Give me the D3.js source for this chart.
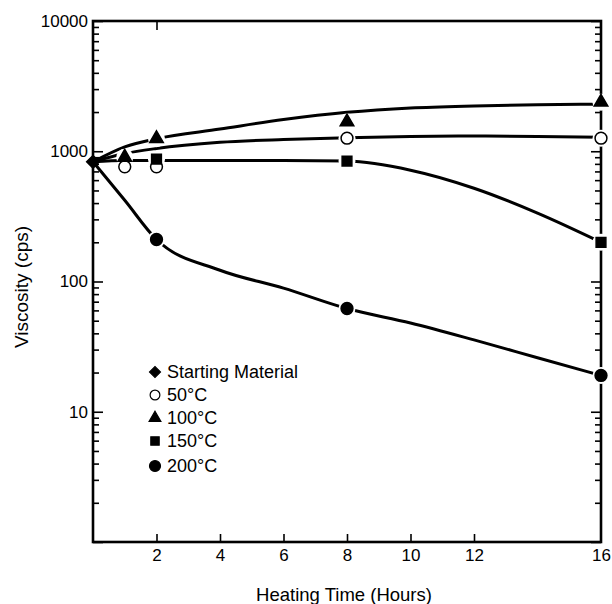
<!DOCTYPE html>
<html>
<head>
<meta charset="utf-8">
<script src="https://cdn.jsdelivr.net/npm/d3@7"></script>
<style>
  body { margin: 0; background: #fff; }
  svg { font-family: "Liberation Sans", Arial, Helvetica, sans-serif; }
</style>
</head>
<body>
<div id="chart"></div>
<script>
// tick labels
const xTicks = [2, 4, 6, 8, 10, 12, 16]
const yTicks = [10, 100, 1000, 10000]

// measured points (hours, viscosity cps)
const startHours = [0]
const startVisc = [830]
const hours50 = [1, 2, 8, 16]
const visc50 = [760, 760, 1260, 1260]
const hours100 = [1, 2, 8, 16]
const visc100 = [900, 1250, 1680, 2380]
const hours150 = [2, 8, 16]
const visc150 = [870, 840, 200]
const hours200 = [2, 8, 16]
const visc200 = [210, 62, 19]

// drawn trend curves
const fitHours = [0, 1, 2, 4, 6, 8, 10, 12, 14, 16]
const fit50 = [830, 960, 1050, 1170, 1230, 1270, 1300, 1310, 1300, 1280]
const fit100 = [830, 1080, 1250, 1480, 1750, 1990, 2150, 2230, 2280, 2300]
const fit150 = [830, 850, 850, 850, 850, 840, 715, 520, 335, 200]
const fit200 = [830, 420, 210, 122, 89, 62, 48, 35.6, 26, 19]

const legendNames = ["Starting Material", "50\u00B0C", "100\u00B0C", "150\u00B0C", "200\u00B0C"]

const width = 612
const height = 604
const x0 = 93, x1 = 601, yTop = 21, yBot = 542

const svg = d3.select("#chart").append("svg")
    .attr("width", width)
    .attr("height", height)

const x = d3.scaleLinear().domain([0, 16]).range([x0, x1])
const y = d3.scaleLog().domain([1, 10000]).range([yBot, yTop])

// minor log ticks
let minorTicks = []
for (let p = 0; p < 4; p++) {
    for (let m = 2; m < 10; m++) minorTicks.push(m * Math.pow(10, p))
}
const majorTicks = [1, 10, 100, 1000, 10000]

function cleanAxis(g) {
    g.select(".domain").remove()
    g.selectAll("line").attr("stroke", "#000").attr("stroke-width", 1.6)
}

// left axis: inward ticks
svg.append("g").attr("transform", "translate(" + x0 + ",0)")
    .call(d3.axisRight(y).tickValues(minorTicks).tickSize(6).tickFormat(""))
    .call(cleanAxis)
svg.append("g").attr("transform", "translate(" + x0 + ",0)")
    .call(d3.axisRight(y).tickValues(majorTicks).tickSize(10).tickFormat(""))
    .call(cleanAxis)
// left labels
svg.append("g").attr("transform", "translate(" + (x0 - 1) + ",0)")
    .call(d3.axisLeft(y).tickValues(yTicks).tickSize(0).tickPadding(4).tickFormat(d3.format("d")))
    .call(g => g.select(".domain").remove())
    .selectAll("text").attr("font-size", 17).attr("fill", "#000")

// right axis: inward ticks
svg.append("g").attr("transform", "translate(" + x1 + ",0)")
    .call(d3.axisLeft(y).tickValues(minorTicks).tickSize(6).tickFormat(""))
    .call(cleanAxis)
svg.append("g").attr("transform", "translate(" + x1 + ",0)")
    .call(d3.axisLeft(y).tickValues(majorTicks).tickSize(10).tickFormat(""))
    .call(cleanAxis)

// bottom axis
svg.append("g").attr("transform", "translate(0," + yBot + ")")
    .call(d3.axisTop(x).tickValues(xTicks.filter(d => d < 16)).tickSize(8).tickFormat(""))
    .call(cleanAxis)
svg.append("g").attr("transform", "translate(0," + yBot + ")")
    .call(d3.axisBottom(x).tickValues(xTicks).tickSize(0).tickPadding(7).tickFormat(d3.format("d")))
    .call(g => g.select(".domain").remove())
    .selectAll("text").attr("font-size", 17).attr("fill", "#000")

// top axis
svg.append("g").attr("transform", "translate(0," + yTop + ")")
    .call(d3.axisBottom(x).tickValues([2]).tickSize(9).tickFormat(""))
    .call(cleanAxis)

// frame
svg.append("rect")
    .attr("x", x0).attr("y", yTop)
    .attr("width", x1 - x0).attr("height", yBot - yTop)
    .attr("fill", "none").attr("stroke", "#000").attr("stroke-width", 2.6)

// axis titles
svg.append("text")
    .attr("x", 344).attr("y", 601)
    .attr("text-anchor", "middle")
    .attr("font-size", 18.5)
    .text("Heating Time (Hours)")
svg.append("text")
    .attr("transform", "translate(28,287) rotate(-90)")
    .attr("text-anchor", "middle")
    .attr("font-size", 19)
    .text("Viscosity (cps)")

// trend curves
const line = d3.line()
    .x(d => x(d[0]))
    .y(d => y(d[1]))
    .curve(d3.curveMonotoneX)

const fits = [fit200, fit150, fit50, fit100]
fits.forEach(function (f) {
    svg.append("path")
        .datum(fitHours.map((h, i) => [h, f[i]]))
        .attr("d", line)
        .attr("fill", "none")
        .attr("stroke", "#000")
        .attr("stroke-width", 3)
})

// marker symbols (diamond = square turned 45 degrees)
const symDiamond = d3.symbol().type(d3.symbolSquare).size(80)
const symCircle = d3.symbol().type(d3.symbolCircle).size(110)
const symTriangle = d3.symbol().type(d3.symbolTriangle).size(80)
const symSquare = d3.symbol().type(d3.symbolSquare).size(95)

const series = [
    { hours: startHours, visc: startVisc, sym: symDiamond, fill: "#000", rot: 45 },
    { hours: hours50, visc: visc50, sym: symCircle, fill: "#fff", rot: 0 },
    { hours: hours100, visc: visc100, sym: symTriangle, fill: "#000", rot: 0 },
    { hours: hours150, visc: visc150, sym: symSquare, fill: "#000", rot: 0 },
    { hours: hours200, visc: visc200, sym: symCircle, fill: "#000", rot: 0 }
]

// white gaps in lines around markers
series.forEach(function (s) {
    if (s.hours[0] === 0) return
    svg.append("g").selectAll("circle")
        .data(s.hours.map((h, i) => [h, s.visc[i]]))
        .enter().append("circle")
        .attr("cx", d => x(d[0]))
        .attr("cy", d => y(d[1]))
        .attr("r", 8.5)
        .attr("fill", "#fff")
})

series.forEach(function (s) {
    svg.append("g").selectAll("path")
        .data(s.hours.map((h, i) => [h, s.visc[i]]))
        .enter().append("path")
        .attr("transform", d => "translate(" + x(d[0]) + "," + y(d[1]) + ") rotate(" + s.rot + ")")
        .attr("d", s.sym())
        .attr("fill", s.fill)
        .attr("stroke", "#000")
        .attr("stroke-width", 1.5)
})

// legend
const legendY = [372, 395, 418, 441, 466]
const legendSyms = [
    d3.symbol().type(d3.symbolSquare).size(60),
    d3.symbol().type(d3.symbolCircle).size(75),
    d3.symbol().type(d3.symbolTriangle).size(60),
    d3.symbol().type(d3.symbolSquare).size(70),
    d3.symbol().type(d3.symbolCircle).size(95)
]
const legendRot = [45, 0, 0, 0, 0]
const legendFill = ["#000", "#fff", "#000", "#000", "#000"]
legendNames.forEach(function (name, i) {
    svg.append("path")
        .attr("transform", "translate(155," + legendY[i] + ") rotate(" + legendRot[i] + ")")
        .attr("d", legendSyms[i]())
        .attr("fill", legendFill[i])
        .attr("stroke", "#000")
        .attr("stroke-width", 1.2)
    svg.append("text")
        .attr("x", 167).attr("y", legendY[i] + 6)
        .attr("font-size", 18)
        .text(name)
})
</script>
</body>
</html>
